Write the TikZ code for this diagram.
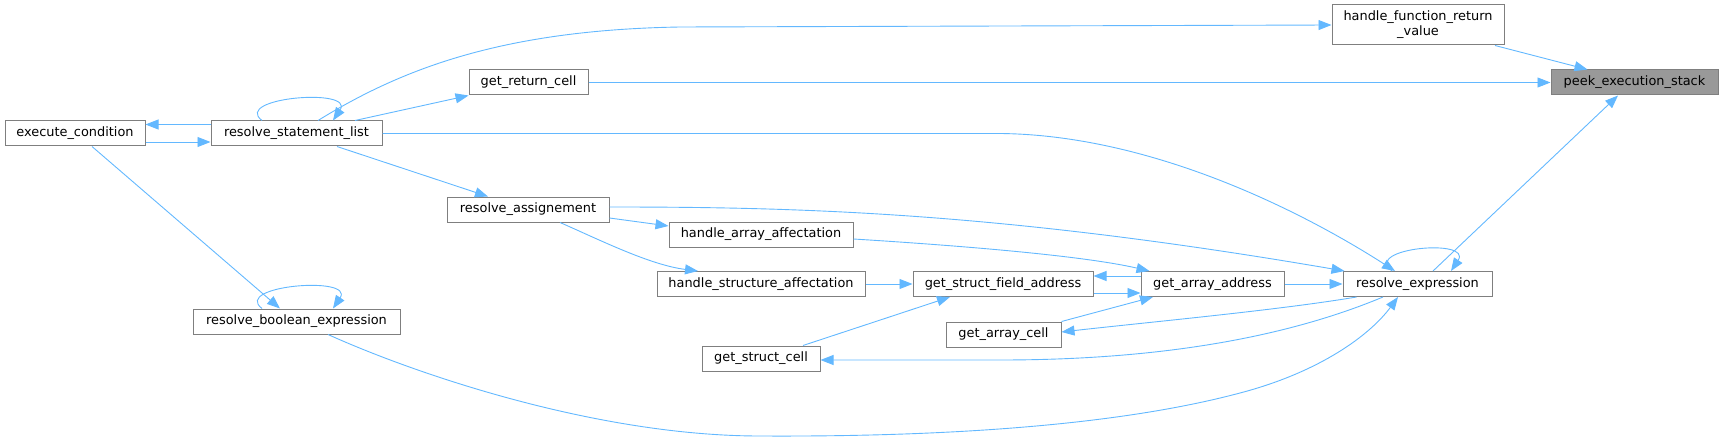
\documentclass[tikz,border=0pt]{standalone}
\usepackage{fontspec}
\setmainfont{DejaVu Sans}[Ligatures=NoCommon]
\usetikzlibrary{arrows.meta}
\definecolor{edgeblue}{HTML}{63B8FF}
\definecolor{nodeborder}{HTML}{7F7F7F}
\definecolor{hlfill}{HTML}{999999}
\tikzset{
  fn/.style={draw=nodeborder, line width=1pt, fill=white, inner sep=0pt,
    minimum height=25pt, font=\fontsize{12.9pt}{15pt}\selectfont, text=black},
  edge/.style={draw=edgeblue, line width=0.9pt, -{Triangle[length=13pt,width=10pt]}},
}
\begin{document}
\begin{tikzpicture}[x=1pt,y=-1pt]
\useasboundingbox (0,0) rectangle (1724,441);
% nodes
\node[fn, minimum width=140pt] (ec) at (75,133.5) {execute\_condition};
\node[fn, minimum width=171pt] (rsl) at (296.5,133.5) {resolve\_statement\_list};
\node[fn, minimum width=119pt] (grc) at (528.5,82.5) {get\_return\_cell};
\node[fn, minimum width=162pt] (ra) at (528,209.5) {resolve\_assignement};
\node[fn, minimum width=172pt, minimum height=40pt, align=center] (hfrv) at (1418,25) {handle\_function\_return\\\_value};
\node[fn, fill=hlfill, minimum width=167pt] (peek) at (1634.5,82.5) {peek\_execution\_stack};
\node[fn, minimum width=207pt] (rbe) at (296.5,321.5) {resolve\_boolean\_expression};
\node[fn, minimum width=184pt] (haa) at (761,234.5) {handle\_array\_affectation};
\node[fn, minimum width=208pt] (hsa) at (761,284) {handle\_structure\_affectation};
\node[fn, minimum width=180pt] (gsfa) at (1003,284) {get\_struct\_field\_address};
\node[fn, minimum width=115pt] (gac) at (1003.5,334.5) {get\_array\_cell};
\node[fn, minimum width=118pt] (gsc) at (761,358.5) {get\_struct\_cell};
\node[fn, minimum width=143pt] (gaa) at (1212.5,284) {get\_array\_address};
\node[fn, minimum width=149pt] (re) at (1417.5,284) {resolve\_expression};
% edges
\draw[edge] ([xshift=77pt]hfrv.south) -- ([xshift=-47pt]peek.north);
\draw[edge] (grc.east) -- (peek.west);
\draw[edge] ([xshift=15.5pt]re.north) -- ([xshift=-16.5pt]peek.south);
\draw[edge] ([xshift=21.5pt]rsl.north) .. controls (400,70) and (500,30) .. (680,27) -- (hfrv.west);
\draw[edge] ([xshift=58.5pt]rsl.north) -- (grc.south west);
\draw[edge] ([xshift=-34.5pt]rsl.north) .. controls +(-30,-23) and +(22,-33) .. ([xshift=36.5pt]rsl.north);
\draw[edge] ([yshift=9pt]rsl.west) -- ([yshift=9pt]ec.east);
\draw[edge] ([yshift=-8.5pt]ec.east) -- ([yshift=-8.5pt]rsl.west);
\draw[edge] (rsl.east) -- (1000,133.5) .. controls (1150,135) and (1300,210) .. ([xshift=-22.5pt]re.north);
\draw[edge] ([xshift=40.5pt]rsl.south) -- ([xshift=-40pt]ra.north);
\draw[edge] ([xshift=17pt]ec.south) -- ([xshift=-16.5pt]rbe.north);
\draw[edge] ([xshift=-34.5pt]rbe.north) .. controls +(-30,-23) and +(22,-33) .. ([xshift=36.5pt]rbe.north);
\draw[edge] ([xshift=31.5pt]rbe.south) .. controls (420,376) and (600,436) .. (760,436) .. controls (950,437) and (1120,425) .. (1240,393) .. controls (1320,372) and (1370,335) .. ([xshift=-19.5pt]re.south);
\draw[edge] ([yshift=2.5pt]ra.east) .. controls (800,207) and (1000,212) .. ([xshift=2pt]re.north west);
\draw[edge] ([yshift=-8.5pt]ra.east) -- ([yshift=8.5pt]haa.west);
\draw[edge] ([xshift=32pt]ra.south) .. controls (600,240) and (650,265) .. ([xshift=-63pt]hsa.north);
\draw[edge] ([yshift=-4.5pt]haa.east) .. controls (950,245) and (1080,255) .. ([xshift=9pt]gaa.north west);
\draw[edge] (hsa.east) -- (gsfa.west);
\draw[edge] ([yshift=8pt]gaa.west) -- ([yshift=8pt]gsfa.east);
\draw[edge] ([yshift=-9pt]gsfa.east) -- ([yshift=-9pt]gaa.west);
\draw[edge] (gaa.east) -- (re.west);
\draw[edge] (gac.north east) -- ([xshift=-59.5pt]gaa.south);
\draw[edge] ([xshift=42pt]gsc.north) -- ([xshift=-53pt]gsfa.south);
\draw[edge] ([xshift=14pt]re.south west) .. controls (1280,310) and (1150,322) .. ([yshift=2.5pt]gac.east);
\draw[edge] ([xshift=-34.5pt]re.south) .. controls (1280,340) and (1150,360) .. (1000,360) -- ([yshift=-1.5pt]gsc.east);
\draw[edge] ([xshift=-25.5pt]re.north) .. controls +(-30,-23) and +(22,-33) .. ([xshift=33.5pt]re.north);
\end{tikzpicture}
\end{document}
